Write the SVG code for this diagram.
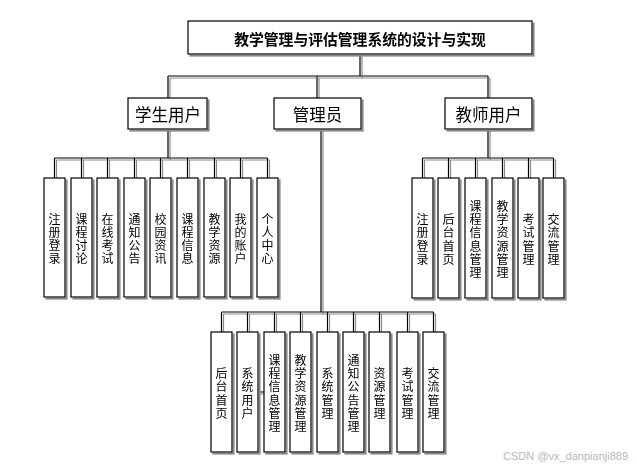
<svg xmlns="http://www.w3.org/2000/svg" width="637" height="468" viewBox="0 0 637 468">
<defs>
<filter id="sh" x="-20%" y="-20%" width="140%" height="140%">
<feOffset in="SourceAlpha" dx="1.5" dy="1.5" result="o"/>
<feFlood flood-color="#8a8a8a"/>
<feComposite in2="o" operator="in" result="s"/>
<feMerge><feMergeNode in="s"/><feMergeNode in="SourceGraphic"/></feMerge>
</filter>
</defs>
<style>
.b{fill:#fff;stroke:#000;stroke-width:1.2}
.t{font-family:"Noto Sans CJK SC","Noto Sans",sans-serif;fill:#000;text-anchor:middle;dominant-baseline:central}
.v{font-size:12px}
.l{font-size:16.5px}
.c{stroke:#000;stroke-width:1.2;fill:none}
</style>
<rect width="637" height="468" fill="#fff"/>
<g id="connectors" filter="url(#sh)">
<path class="c" d="M360 54V76M168 76H488M168 76V98M317 76V98M488 76V98"/>
<path class="c" d="M168 129V158M54.5 158H267.5M54.5 158V178M81.5 158V178M107.5 158V178M134.5 158V178M160.5 158V178M187.5 158V178M214.5 158V178M240.5 158V178M267.5 158V178"/>
<path class="c" d="M488 129V158M422.5 158H553.5M422.5 158V178M448.5 158V178M475.5 158V178M502.5 158V178M528.5 158V178M553.5 158V178"/>
<path class="c" d="M321 129V312M221.5 312H433.5M221.5 312V332M247.5 312V332M274.5 312V332M300.5 312V332M327.5 312V332M353.5 312V332M379.5 312V332M407.5 312V332M433.5 312V332M258 392H264"/>
</g>
<g filter="url(#sh)">
<g id="title"><rect class="b" x="188" y="21" width="344" height="33"/><text class="t" x="360" y="38" font-size="14.8" font-weight="bold">教学管理与评估管理系统的设计与实现</text></g>
<g id="student"><rect class="b" x="128" y="98" width="79" height="31"/><text class="t l" x="168" y="114">学生用户</text></g>
<g id="admin"><rect class="b" x="274" y="98" width="87" height="31"/><text class="t l" x="317.5" y="114">管理员</text></g>
<g id="teacher"><rect class="b" x="445" y="98" width="87" height="31"/><text class="t l" x="488.5" y="114">教师用户</text></g>

<g id="s1"><rect class="b" x="44" y="178" width="21" height="119"/><text class="t v" x="54.5" y="217.7"><tspan x="54.5" dy="0">注</tspan><tspan x="54.5" dy="13.2">册</tspan><tspan x="54.5" dy="13.2">登</tspan><tspan x="54.5" dy="13.2">录</tspan></text></g>
<g id="s2"><rect class="b" x="71" y="178" width="21" height="119"/><text class="t v" x="81.5" y="217.7"><tspan x="81.5" dy="0">课</tspan><tspan x="81.5" dy="13.2">程</tspan><tspan x="81.5" dy="13.2">讨</tspan><tspan x="81.5" dy="13.2">论</tspan></text></g>
<g id="s3"><rect class="b" x="97" y="178" width="21" height="119"/><text class="t v" x="107.5" y="217.7"><tspan x="107.5" dy="0">在</tspan><tspan x="107.5" dy="13.2">线</tspan><tspan x="107.5" dy="13.2">考</tspan><tspan x="107.5" dy="13.2">试</tspan></text></g>
<g id="s4"><rect class="b" x="124" y="178" width="21" height="119"/><text class="t v" x="134.5" y="217.7"><tspan x="134.5" dy="0">通</tspan><tspan x="134.5" dy="13.2">知</tspan><tspan x="134.5" dy="13.2">公</tspan><tspan x="134.5" dy="13.2">告</tspan></text></g>
<g id="s5"><rect class="b" x="150" y="178" width="21" height="119"/><text class="t v" x="160.5" y="217.7"><tspan x="160.5" dy="0">校</tspan><tspan x="160.5" dy="13.2">园</tspan><tspan x="160.5" dy="13.2">资</tspan><tspan x="160.5" dy="13.2">讯</tspan></text></g>
<g id="s6"><rect class="b" x="177" y="178" width="21" height="119"/><text class="t v" x="187.5" y="217.7"><tspan x="187.5" dy="0">课</tspan><tspan x="187.5" dy="13.2">程</tspan><tspan x="187.5" dy="13.2">信</tspan><tspan x="187.5" dy="13.2">息</tspan></text></g>
<g id="s7"><rect class="b" x="204" y="178" width="21" height="119"/><text class="t v" x="214.5" y="217.7"><tspan x="214.5" dy="0">教</tspan><tspan x="214.5" dy="13.2">学</tspan><tspan x="214.5" dy="13.2">资</tspan><tspan x="214.5" dy="13.2">源</tspan></text></g>
<g id="s8"><rect class="b" x="230" y="178" width="21" height="119"/><text class="t v" x="240.5" y="217.7"><tspan x="240.5" dy="0">我</tspan><tspan x="240.5" dy="13.2">的</tspan><tspan x="240.5" dy="13.2">账</tspan><tspan x="240.5" dy="13.2">户</tspan></text></g>
<g id="s9"><rect class="b" x="257" y="178" width="21" height="119"/><text class="t v" x="267.5" y="217.7"><tspan x="267.5" dy="0">个</tspan><tspan x="267.5" dy="13.2">人</tspan><tspan x="267.5" dy="13.2">中</tspan><tspan x="267.5" dy="13.2">心</tspan></text></g>

<g id="t1"><rect class="b" x="412" y="178" width="21" height="120"/><text class="t v" x="422.5" y="218.2"><tspan x="422.5" dy="0">注</tspan><tspan x="422.5" dy="13.2">册</tspan><tspan x="422.5" dy="13.2">登</tspan><tspan x="422.5" dy="13.2">录</tspan></text></g>
<g id="t2"><rect class="b" x="438" y="178" width="21" height="120"/><text class="t v" x="448.5" y="218.2"><tspan x="448.5" dy="0">后</tspan><tspan x="448.5" dy="13.2">台</tspan><tspan x="448.5" dy="13.2">首</tspan><tspan x="448.5" dy="13.2">页</tspan></text></g>
<g id="t3"><rect class="b" x="465" y="178" width="21" height="120"/><text class="t v" x="475.5" y="205"><tspan x="475.5" dy="0">课</tspan><tspan x="475.5" dy="13.2">程</tspan><tspan x="475.5" dy="13.2">信</tspan><tspan x="475.5" dy="13.2">息</tspan><tspan x="475.5" dy="13.2">管</tspan><tspan x="475.5" dy="13.2">理</tspan></text></g>
<g id="t4"><rect class="b" x="492" y="178" width="21" height="120"/><text class="t v" x="502.5" y="205"><tspan x="502.5" dy="0">教</tspan><tspan x="502.5" dy="13.2">学</tspan><tspan x="502.5" dy="13.2">资</tspan><tspan x="502.5" dy="13.2">源</tspan><tspan x="502.5" dy="13.2">管</tspan><tspan x="502.5" dy="13.2">理</tspan></text></g>
<g id="t5"><rect class="b" x="518" y="178" width="21" height="120"/><text class="t v" x="528.5" y="218.2"><tspan x="528.5" dy="0">考</tspan><tspan x="528.5" dy="13.2">试</tspan><tspan x="528.5" dy="13.2">管</tspan><tspan x="528.5" dy="13.2">理</tspan></text></g>
<g id="t6"><rect class="b" x="543" y="178" width="21" height="120"/><text class="t v" x="553.5" y="218.2"><tspan x="553.5" dy="0">交</tspan><tspan x="553.5" dy="13.2">流</tspan><tspan x="553.5" dy="13.2">管</tspan><tspan x="553.5" dy="13.2">理</tspan></text></g>

<g id="a1"><rect class="b" x="211" y="332" width="21" height="120"/><text class="t v" x="221.5" y="372.2"><tspan x="221.5" dy="0">后</tspan><tspan x="221.5" dy="13.2">台</tspan><tspan x="221.5" dy="13.2">首</tspan><tspan x="221.5" dy="13.2">页</tspan></text></g>
<g id="a2"><rect class="b" x="237" y="332" width="21" height="120"/><text class="t v" x="247.5" y="372.2"><tspan x="247.5" dy="0">系</tspan><tspan x="247.5" dy="13.2">统</tspan><tspan x="247.5" dy="13.2">用</tspan><tspan x="247.5" dy="13.2">户</tspan></text></g>
<g id="a3"><rect class="b" x="264" y="332" width="21" height="120"/><text class="t v" x="274.5" y="359"><tspan x="274.5" dy="0">课</tspan><tspan x="274.5" dy="13.2">程</tspan><tspan x="274.5" dy="13.2">信</tspan><tspan x="274.5" dy="13.2">息</tspan><tspan x="274.5" dy="13.2">管</tspan><tspan x="274.5" dy="13.2">理</tspan></text></g>
<g id="a4"><rect class="b" x="290" y="332" width="21" height="120"/><text class="t v" x="300.5" y="359"><tspan x="300.5" dy="0">教</tspan><tspan x="300.5" dy="13.2">学</tspan><tspan x="300.5" dy="13.2">资</tspan><tspan x="300.5" dy="13.2">源</tspan><tspan x="300.5" dy="13.2">管</tspan><tspan x="300.5" dy="13.2">理</tspan></text></g>
<g id="a5"><rect class="b" x="317" y="332" width="21" height="120"/><text class="t v" x="327.5" y="372.2"><tspan x="327.5" dy="0">系</tspan><tspan x="327.5" dy="13.2">统</tspan><tspan x="327.5" dy="13.2">管</tspan><tspan x="327.5" dy="13.2">理</tspan></text></g>
<g id="a6"><rect class="b" x="343" y="332" width="21" height="120"/><text class="t v" x="353.5" y="359"><tspan x="353.5" dy="0">通</tspan><tspan x="353.5" dy="13.2">知</tspan><tspan x="353.5" dy="13.2">公</tspan><tspan x="353.5" dy="13.2">告</tspan><tspan x="353.5" dy="13.2">管</tspan><tspan x="353.5" dy="13.2">理</tspan></text></g>
<g id="a7"><rect class="b" x="369" y="332" width="21" height="120"/><text class="t v" x="379.5" y="372.2"><tspan x="379.5" dy="0">资</tspan><tspan x="379.5" dy="13.2">源</tspan><tspan x="379.5" dy="13.2">管</tspan><tspan x="379.5" dy="13.2">理</tspan></text></g>
<g id="a8"><rect class="b" x="397" y="332" width="21" height="120"/><text class="t v" x="407.5" y="372.2"><tspan x="407.5" dy="0">考</tspan><tspan x="407.5" dy="13.2">试</tspan><tspan x="407.5" dy="13.2">管</tspan><tspan x="407.5" dy="13.2">理</tspan></text></g>
<g id="a9"><rect class="b" x="423" y="332" width="21" height="120"/><text class="t v" x="433.5" y="372.2"><tspan x="433.5" dy="0">交</tspan><tspan x="433.5" dy="13.2">流</tspan><tspan x="433.5" dy="13.2">管</tspan><tspan x="433.5" dy="13.2">理</tspan></text></g>
</g>
<text x="628" y="456" font-family="Liberation Sans,sans-serif" font-size="11" fill="#b8b8b8" text-anchor="end" dominant-baseline="central">CSDN @vx_danpianji889</text>
</svg>
